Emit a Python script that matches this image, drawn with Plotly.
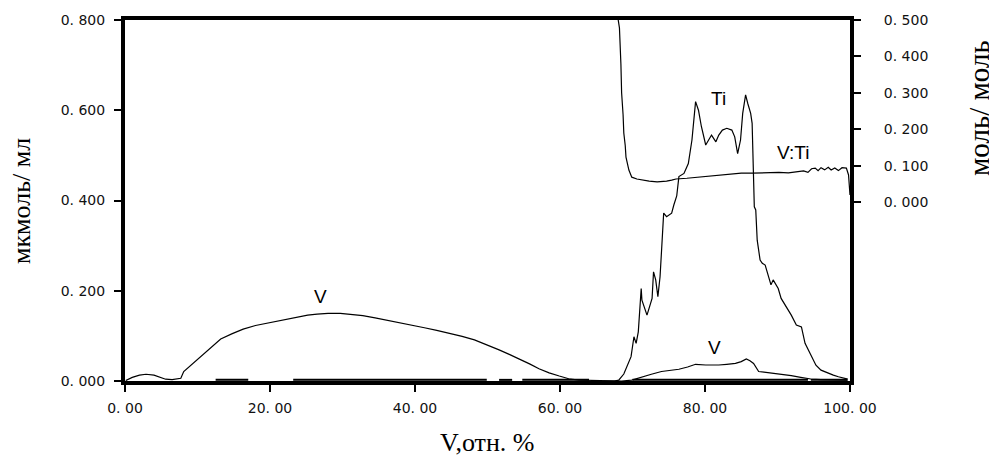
import plotly.graph_objects as go

# Elution profile: vanadium and titanium (мкмоль/мл) and the V:Ti molar ratio (моль/моль)
v_x = [0.1, 1.0, 2.0, 2.9, 4.0, 5.0, 5.6, 6.5, 7.7, 8.1, 9.0, 10.0, 11.5, 13.2, 14.8,
       16.3, 18.0, 20.1, 22.0, 23.8, 25.2, 26.5, 28.0, 29.7, 31.2, 32.8, 34.5, 36.1,
       37.8, 39.3, 41.3, 43.0, 44.8, 46.5, 48.2, 50.0, 51.6, 53.0, 54.4, 55.8, 57.1,
       58.5, 59.9, 61.2, 62.6, 64.5, 66.8, 68.5, 69.9, 71.3, 72.6, 74.0, 75.2, 76.4,
       77.6, 78.7, 80.1, 81.0, 81.9, 83.0, 84.2, 85.0, 85.7, 86.2, 86.7, 87.4, 88.5,
       89.7, 90.8, 91.9, 93.2, 94.6, 96.0, 97.4, 98.6, 99.7]
v_y = [0.001, 0.008, 0.013, 0.015, 0.013, 0.008, 0.004, 0.003, 0.006, 0.021, 0.034,
       0.0465, 0.070, 0.093, 0.105, 0.115, 0.123, 0.130, 0.136, 0.1425, 0.146, 0.148,
       0.150, 0.150, 0.148, 0.145, 0.140, 0.135, 0.130, 0.124, 0.118, 0.112, 0.106,
       0.099, 0.091, 0.080, 0.069, 0.059, 0.049, 0.038, 0.027, 0.018, 0.011, 0.005,
       0.002, 0.001, 0.0, 0.0, 0.002, 0.0095, 0.015, 0.021, 0.024, 0.026, 0.031,
       0.037, 0.0355, 0.035, 0.0355, 0.037, 0.039, 0.043, 0.0487, 0.045, 0.039,
       0.021, 0.019, 0.017, 0.014, 0.0118, 0.008, 0.0044, 0.003, 0.002, 0.002, 0.002]

ti_x = [66.0, 67.5, 68.1, 68.8, 69.8, 70.2, 70.5, 70.8, 71.2, 71.3, 72.0, 72.7, 72.9,
        73.2, 73.5, 73.8, 74.0, 74.3, 74.7, 75.4, 75.7, 76.1, 76.4, 77.1, 77.7, 78.2,
        78.7, 79.1, 79.5, 80.1, 80.5, 80.9, 81.5, 81.9, 82.4, 83.0, 83.7, 84.1, 84.5,
        84.9, 85.2, 85.6, 85.9, 86.3, 86.5, 86.7, 86.8, 87.0, 87.2, 87.6, 87.9, 88.3,
        88.9, 89.1, 89.4, 90.1, 90.5, 91.2, 91.9, 92.6, 93.3, 93.8, 94.5, 94.9, 95.3,
        96.0, 97.0, 97.7, 98.4, 99.3, 99.7]
ti_y = [0.0, 0.0, 0.002, 0.0155, 0.054, 0.098, 0.0835, 0.109, 0.205, 0.179, 0.146,
        0.183, 0.242, 0.224, 0.187, 0.231, 0.287, 0.372, 0.364, 0.372, 0.390, 0.410,
        0.453, 0.460, 0.482, 0.534, 0.619, 0.600, 0.564, 0.523, 0.534, 0.545, 0.530,
        0.545, 0.556, 0.560, 0.556, 0.541, 0.504, 0.534, 0.593, 0.634, 0.615, 0.593,
        0.571, 0.460, 0.386, 0.379, 0.312, 0.268, 0.261, 0.257, 0.224, 0.213, 0.224,
        0.205, 0.183, 0.165, 0.146, 0.124, 0.120, 0.0835, 0.061, 0.050, 0.035, 0.024,
        0.017, 0.013, 0.0095, 0.006, 0.004]

ratio_x = [67.8, 68.2, 68.4, 68.5, 68.7, 68.8, 69.0, 69.1, 69.5, 69.9, 70.6, 71.3,
           72.3, 73.4, 74.1, 74.7, 75.4, 76.0, 77.5, 79.1, 80.5, 81.9, 83.5, 85.0,
           86.5, 87.8, 89.1, 90.2, 91.5, 92.9, 93.6, 94.2, 94.7, 95.2, 95.6, 96.0,
           96.5, 97.0, 97.4, 97.9, 98.4, 98.9, 99.5, 99.8, 99.9, 100.0]
ratio_y = [0.53, 0.478, 0.38, 0.30, 0.24, 0.19, 0.155, 0.124, 0.0885, 0.069, 0.064,
           0.061, 0.058, 0.056, 0.057, 0.058, 0.061, 0.064, 0.066, 0.069, 0.072,
           0.075, 0.078, 0.080, 0.080, 0.081, 0.080, 0.082, 0.081, 0.083, 0.086,
           0.082, 0.092, 0.094, 0.087, 0.095, 0.089, 0.096, 0.0885, 0.094, 0.087,
           0.095, 0.094, 0.075, 0.04, 0.02]

# near-zero background trace running along the baseline (gaps as None)
bg_x = [12.5, 17.0, None, 23.2, 49.9, None, 51.6, 53.4, None, 54.8, 64.0, None,
        70.0, 94.2, None, 94.6, 99.6]
bg_y = [0.0025, 0.0025, None, 0.0025, 0.0025, None, 0.0025, 0.0025, None, 0.0025,
        0.0025, None, 0.0025, 0.0025, None, 0.0025, 0.0025]

x_ticks = [0, 20, 40, 60, 80, 100]
x_ticktext = ["0. 00", "20. 00", "40. 00", "60. 00", "80. 00", "100. 00"]
left_ticks = [0, 0.2, 0.4, 0.6, 0.8]
left_ticktext = ["0. 000", "0. 200", "0. 400", "0. 600", "0. 800"]
right_ticks = [0, 0.1, 0.2, 0.3, 0.4, 0.5]
right_ticktext = ["0. 000", "0. 100", "0. 200", "0. 300", "0. 400", "0. 500"]

line_style = dict(color="black", width=1.2)

W, H = 989, 459
M_L, M_R, M_T, M_B = 125, 139, 20, 78
PLOT_W, PLOT_H = W - M_L - M_R, H - M_T - M_B


def paper_xy(px, py):
    """Convert a pixel position on the page to paper coordinates."""
    return (px - M_L) / PLOT_W, (H - M_B - py) / PLOT_H


fig = go.Figure()
fig.add_trace(go.Scatter(x=bg_x, y=bg_y, mode="lines", line=dict(color="black", width=2),
                         connectgaps=False, showlegend=False, hoverinfo="skip"))
fig.add_trace(go.Scatter(x=v_x, y=v_y, mode="lines", line=line_style, name="V"))
fig.add_trace(go.Scatter(x=ti_x, y=ti_y, mode="lines", line=line_style, name="Ti"))
fig.add_trace(go.Scatter(x=ratio_x, y=ratio_y, mode="lines", line=line_style,
                         name="V:Ti", yaxis="y2"))

tick_font = dict(family="DejaVu Sans", size=14, color="#111")
label_font = dict(family="Liberation Sans, Arial", size=19, color="black")
serif = "Liberation Serif, Times New Roman"

fig.update_layout(
    width=W, height=H,
    margin=dict(l=M_L, r=M_R, t=M_T, b=M_B),
    paper_bgcolor="white", plot_bgcolor="white",
    showlegend=False,
    xaxis=dict(range=[0, 100], tickvals=x_ticks, ticktext=x_ticktext,
               showline=True, linecolor="black", linewidth=4, mirror=True,
               ticks="outside", ticklen=7, tickwidth=1.5, tickcolor="black",
               showgrid=False, zeroline=False, tickfont=tick_font,
               ticklabelstandoff=4),
    yaxis=dict(range=[0, 0.8], tickvals=left_ticks, ticktext=left_ticktext,
               showline=True, linecolor="black", linewidth=4,
               ticks="outside", ticklen=7, tickwidth=1.5, tickcolor="black",
               showgrid=False, zeroline=False, tickfont=tick_font,
               ticklabelstandoff=6),
    yaxis2=dict(range=[-0.49, 0.5], tickvals=right_ticks, ticktext=right_ticktext,
                overlaying="y", side="right",
                showline=True, linecolor="black", linewidth=4,
                ticks="outside", ticklen=7, tickwidth=1.5, tickcolor="black",
                showgrid=False, zeroline=False, tickfont=tick_font,
                ticklabelstandoff=20),
)

# curve labels
for txt, xv, yv in [("V", 26.9, 0.188), ("Ti", 81.9, 0.625),
                    ("V:Ti", 92.2, 0.507), ("V", 81.3, 0.075)]:
    fig.add_annotation(x=xv, y=yv, xref="x", yref="y", text=txt, showarrow=False,
                       font=label_font)

# axis titles
for txt, px, py, angle, size in [("мкмоль/ мл", 21, 201, -90, 26),
                                 ("моль/ моль", 979, 108, -90, 29),
                                 ("V,отн. %", 487, 442, 0, 26)]:
    ax, ay = paper_xy(px, py)
    fig.add_annotation(x=ax, y=ay, xref="paper", yref="paper", text=txt,
                       textangle=angle, showarrow=False,
                       font=dict(family=serif, size=size, color="black"),
                       xanchor="center", yanchor="middle")

fig.write_html("out.html")
